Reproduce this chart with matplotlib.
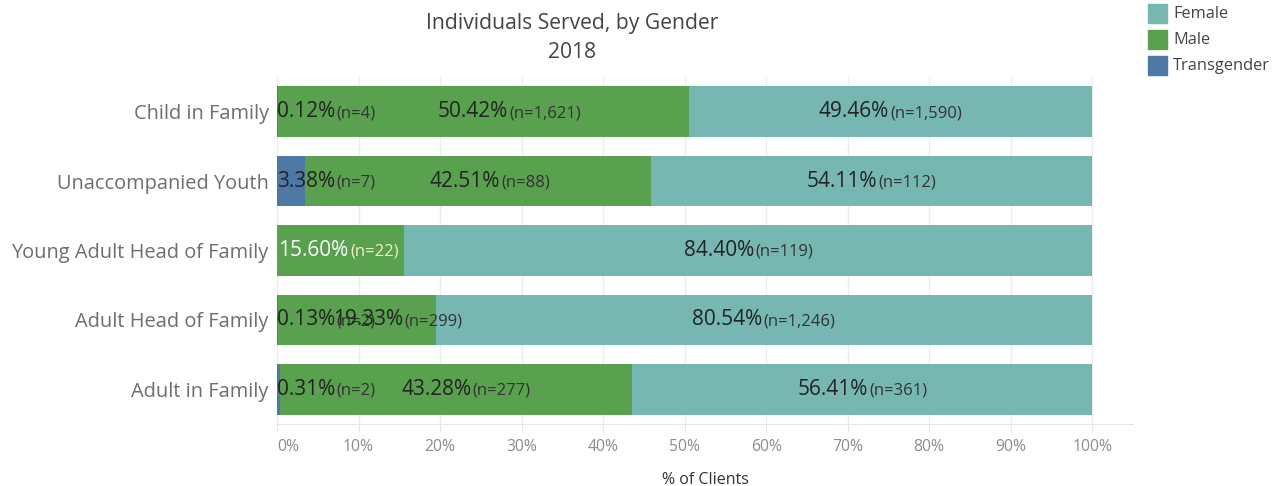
import matplotlib
matplotlib.use("Agg")
import matplotlib.pyplot as plt
from matplotlib.offsetbox import TextArea, HPacker, AnnotationBbox
from matplotlib.patches import Rectangle

plt.rcParams['font.family'] = ['Open Sans', 'DejaVu Sans']

# data
categories = ["Child in Family", "Unaccompanied Youth", "Young Adult Head of Family",
              "Adult Head of Family", "Adult in Family"]
trans_pct = [0.12, 3.38, 0.0, 0.13, 0.31]
trans_n = [4, 7, 0, 2, 2]
male_pct = [50.42, 42.51, 15.60, 19.33, 43.28]
male_n = [1621, 88, 22, 299, 277]
female_pct = [49.46, 54.11, 84.40, 80.54, 56.41]
female_n = [1590, 112, 119, 1246, 361]
ticks = [0, 10, 20, 30, 40, 50, 60, 70, 80, 90, 100]
legend_names = ["Female", "Male", "Transgender"]

c_female = "#76b7b2"
c_male = "#59a14f"
c_trans = "#4e79a7"

# tableau nudged the male labels sideways, pixels
male_shift = [26, 12, -2, 41, 10]

W, H = 1278, 486
fig = plt.figure(figsize=(W / 100, H / 100), dpi=100)
ax = fig.add_axes([277 / W, 1 - 424 / H, (1133 - 277) / W, 347 / H])

ys = list(range(len(categories)))
h = 0.73
ax.barh(ys, trans_pct, height=h, color=c_trans)
ax.barh(ys, male_pct, left=trans_pct, height=h, color=c_male)
left_f = [t + m for t, m in zip(trans_pct, male_pct)]
ax.barh(ys, female_pct, left=left_f, height=h, color=c_female)

ax.set_xlim(0, 105)
ax.set_ylim(len(categories) - 0.5, -0.5)


def add_label(x, y, pct, n, align, dx=0, c1="#222222", c2="#333333"):
    big = TextArea(f"{pct:.2f}%", textprops=dict(fontsize=15, color=c1))
    small = TextArea(f"(n={n:,})", textprops=dict(fontsize=12, color=c2))
    box = HPacker(children=[big, small], align="baseline", pad=0, sep=1)
    ab = AnnotationBbox(box, (x, y), xybox=(dx * 0.72, 0), xycoords='data',
                        boxcoords='offset points', box_alignment=(align, 0.5),
                        frameon=False, pad=0)
    ax.add_artist(ab)


for i in ys:
    if trans_n[i] > 0:
        add_label(0, i, trans_pct[i], trans_n[i], 0.0, dx=0)
    mc = trans_pct[i] + male_pct[i] / 2
    if i == 2:
        add_label(mc, i, male_pct[i], male_n[i], 0.5, male_shift[i], "white", "#f3efc9")
    else:
        add_label(mc, i, male_pct[i], male_n[i], 0.5, male_shift[i])
    fc = left_f[i] + female_pct[i] / 2
    add_label(fc, i, female_pct[i], female_n[i], 0.5)

ax.set_yticks(ys)
ax.set_yticklabels(categories, fontsize=14.4, color="#6e6e6e")
ax.tick_params(axis='y', length=0, pad=6)
ax.set_xticks(ticks)
ax.set_xticklabels([f"{t}%" for t in ticks], fontsize=11.3, color="#8c8c8c")
ax.get_xticklabels()[0].set_ha("left")
ax.tick_params(axis='x', length=6, color="#e6e6e6", pad=5)
ax.grid(axis='x', color="#ededed", linewidth=1)
ax.set_axisbelow(True)
for s in ["top", "right", "left"]:
    ax.spines[s].set_visible(False)
ax.spines["bottom"].set_color("#e6e6e6")
ax.set_xlabel("% of Clients", fontsize=11.5, color="#333333", labelpad=12)

fig.text(572 / W, 1 - 24 / H, "Individuals Served, by Gender", ha="center", va="center",
         fontsize=15.2, color="#444444")
fig.text(572 / W, 1 - 53 / H, "2018", ha="center", va="center", fontsize=15.2, color="#444444")

# legend, drawn by hand to sit like tableau's
for k, (name, col) in enumerate(zip(legend_names, [c_female, c_male, c_trans])):
    yc = 14 + 26 * k
    fig.patches.append(Rectangle((1148 / W, 1 - (yc + 9.5) / H), 19 / W, 19 / H,
                                 transform=fig.transFigure, color=col))
    fig.text(1173 / W, 1 - yc / H, name, ha="left", va="center", fontsize=11.8,
             color="#444444")

fig.savefig("out.png", dpi=100)
